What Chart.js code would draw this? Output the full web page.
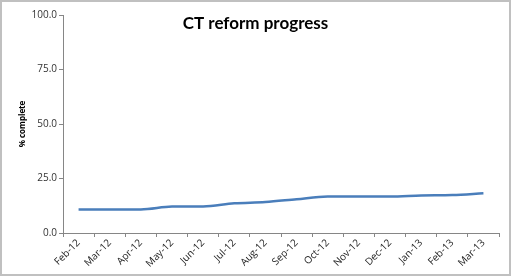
<!DOCTYPE html>
<html>
<head>
<meta charset="utf-8">
<script src="https://cdn.jsdelivr.net/npm/chart.js@4"></script>
<style>
html,body{margin:0;padding:0;background:#fff;}
#wrap{position:absolute;left:0;top:0;width:507px;height:272px;border:2px solid #c0c0c0;background:#fff;}
canvas{display:block;}
</style>
</head>
<body>
<div id="wrap"><canvas id="c" width="507" height="272"></canvas></div>
<script>
const categories = ["Feb-12","Mar-12","Apr-12","May-12","Jun-12","Jul-12","Aug-12","Sep-12","Oct-12","Nov-12","Dec-12","Jan-13","Feb-13","Mar-13"];
const progress = [10.8,10.8,10.8,12.1,12.2,13.6,14.2,15.5,16.7,16.7,16.7,17.2,17.4,18.2];
const yTicks = [0,25,50,75,100];
const chartTitle = "CT reform progress";
const yTitle = "% complete";

const titlePlugin = {
  id: 'innerTitle',
  afterDraw(chart) {
    const ctx = chart.ctx;
    ctx.save();
    ctx.font = 'bold 17px Lato, "Open Sans", sans-serif';
    ctx.fillStyle = '#000';
    ctx.textAlign = 'center';
    ctx.textBaseline = 'middle';
    ctx.fillText(chartTitle, 253.5, 22);
    ctx.restore();
  }
};

new Chart(document.getElementById('c'), {
  type: 'line',
  data: {
    labels: categories,
    datasets: [{
      data: progress,
      borderColor: '#4a7ebb',
      borderWidth: 2.5,
      pointRadius: 0,
      cubicInterpolationMode: 'monotone',
      fill: false
    }]
  },
  options: {
    responsive: false,
    animation: false,
    layout: { padding: { top: 13, right: 10, left: 16, bottom: 0 } },
    plugins: { legend: { display: false }, tooltip: { enabled: false }, title: { display: false } },
    scales: {
      x: {
        offset: true,
        grid: { offset: true, drawOnChartArea: false, tickLength: 4, color: '#868686' },
        border: { color: '#868686', width: 1 },
        ticks: { maxRotation: 45, minRotation: 45, autoSkip: false, color: '#222', font: { family: '"Open Sans", sans-serif', size: 10 }, padding: 0 },
        afterFit(s) { s.height = 41; }
      },
      y: {
        min: 0, max: 100,
        afterBuildTicks(s) { s.ticks = yTicks.map(v => ({ value: v })); },
        grid: { drawOnChartArea: false, tickLength: 4, color: '#868686' },
        border: { color: '#868686', width: 1 },
        ticks: { color: '#333', font: { family: '"Open Sans", sans-serif', size: 10 }, padding: 2, callback: v => Number(v).toFixed(1) },
        title: { display: true, text: yTitle, color: '#000', font: { family: '"Open Sans", sans-serif', size: 8, weight: 'bold' }, padding: { top: 0, bottom: 6 } },
        afterFit(s) { s.width = 45; }
      }
    }
  },
  plugins: [titlePlugin]
});
</script>
</body>
</html>
